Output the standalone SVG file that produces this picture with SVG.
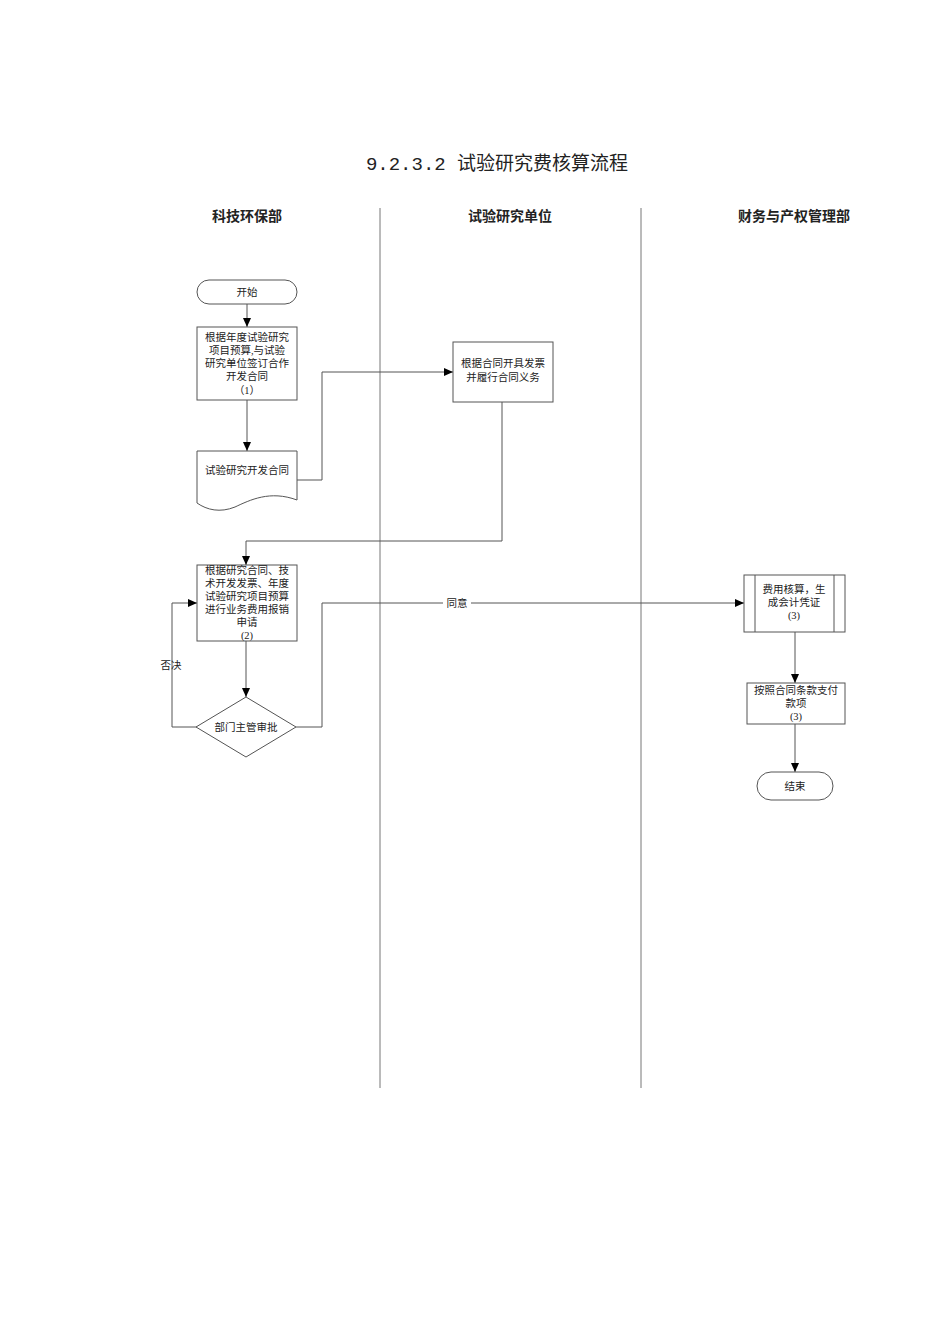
<svg xmlns="http://www.w3.org/2000/svg" width="950" height="1344" viewBox="0 0 950 1344">
<style>
text{font-family:"Liberation Serif","Noto Sans CJK SC",serif;fill:#222;text-anchor:middle}
.t{font-size:10.5px}
.h{font-size:14px;font-weight:bold}
.s{fill:#fff;stroke:#555;stroke-width:1}
.c{fill:none;stroke:#555;stroke-width:1}
</style>
<defs><marker id="a" markerWidth="10" markerHeight="10" refX="9" refY="5" orient="auto" markerUnits="userSpaceOnUse"><path d="M0,1 L9,5 L0,9 Z" fill="#000"/></marker></defs>
<rect width="950" height="1344" fill="#fff"/>
<text x="497" y="170" style="font-size:19px;font-family:'Liberation Mono','Noto Sans CJK SC',monospace">9.2.3.2 试验研究费核算流程</text>
<text class="h" x="247" y="221">科技环保部</text>
<text class="h" x="510" y="221">试验研究单位</text>
<text class="h" x="794" y="221">财务与产权管理部</text>
<g id="lanes" stroke="#777"><line x1="380" y1="208" x2="380" y2="1088"/><line x1="641" y1="208" x2="641" y2="1088"/></g>
<g id="connectors">
<line class="c" x1="247" y1="304" x2="247" y2="327" marker-end="url(#a)"/>
<line class="c" x1="247" y1="400" x2="247" y2="451" marker-end="url(#a)"/>
<polyline class="c" points="297,480 322,480 322,372 453,372" marker-end="url(#a)"/>
<polyline class="c" points="502,402 502,541 246,541 246,565" marker-end="url(#a)"/>
<line class="c" x1="246" y1="641" x2="246" y2="697" marker-end="url(#a)"/>
<polyline class="c" points="197,727 172,727 172,603 197,603" marker-end="url(#a)"/>
<polyline class="c" points="296,727 322,727 322,603 744,603" marker-end="url(#a)"/>
<rect x="443" y="596" width="28" height="14" fill="#fff"/>
<text class="t" x="457" y="607">同意</text>
<text class="t" x="171" y="669">否决</text>
<line class="c" x1="795" y1="632" x2="795" y2="683" marker-end="url(#a)"/>
<line class="c" x1="795" y1="724" x2="795" y2="772" marker-end="url(#a)"/>
</g>
<g id="start"><rect class="s" x="197" y="280" width="100" height="24" rx="12"/><text class="t" x="247" y="296">开始</text></g>
<g id="n1"><rect class="s" x="197" y="327" width="100" height="73"/>
<text class="t" x="247" y="341">根据年度试验研究</text><text class="t" x="247" y="354">项目预算,与试验</text><text class="t" x="247" y="367">研究单位签订合作</text><text class="t" x="247" y="380">开发合同</text><text class="t" x="247" y="394">（1）</text></g>
<g id="doc"><path class="s" d="M197,451 H297 V500 C270,490 250,500 235,507 C220,513 207,510 197,503 Z"/><text class="t" x="247" y="474">试验研究开发合同</text></g>
<g id="n2"><rect class="s" x="453" y="342" width="100" height="60"/><text class="t" x="503" y="367">根据合同开具发票</text><text class="t" x="503" y="381">并履行合同义务</text></g>
<g id="n3"><rect class="s" x="197" y="565" width="100" height="76"/>
<text class="t" x="247" y="574">根据研究合同、技</text><text class="t" x="247" y="587">术开发发票、年度</text><text class="t" x="247" y="600">试验研究项目预算</text><text class="t" x="247" y="613">进行业务费用报销</text><text class="t" x="247" y="626">申请</text><text class="t" x="247" y="639">(2)</text></g>
<g id="d1"><polygon class="s" points="246,697 296,727 246,757 196,727"/><text class="t" x="246" y="731">部门主管审批</text></g>
<g id="n4"><rect class="s" x="744" y="575" width="101" height="57"/><line class="c" x1="755" y1="575" x2="755" y2="632"/><line class="c" x1="834" y1="575" x2="834" y2="632"/>
<text class="t" x="794" y="593">费用核算，生</text><text class="t" x="794" y="606">成会计凭证</text><text class="t" x="794" y="619">(3)</text></g>
<g id="n5"><rect class="s" x="747" y="683" width="98" height="41"/><text class="t" x="796" y="694">按照合同条款支付</text><text class="t" x="796" y="707">款项</text><text class="t" x="796" y="720">(3)</text></g>
<g id="end"><rect class="s" x="757" y="772" width="76" height="28" rx="14"/><text class="t" x="795" y="790">结束</text></g>
</svg>
